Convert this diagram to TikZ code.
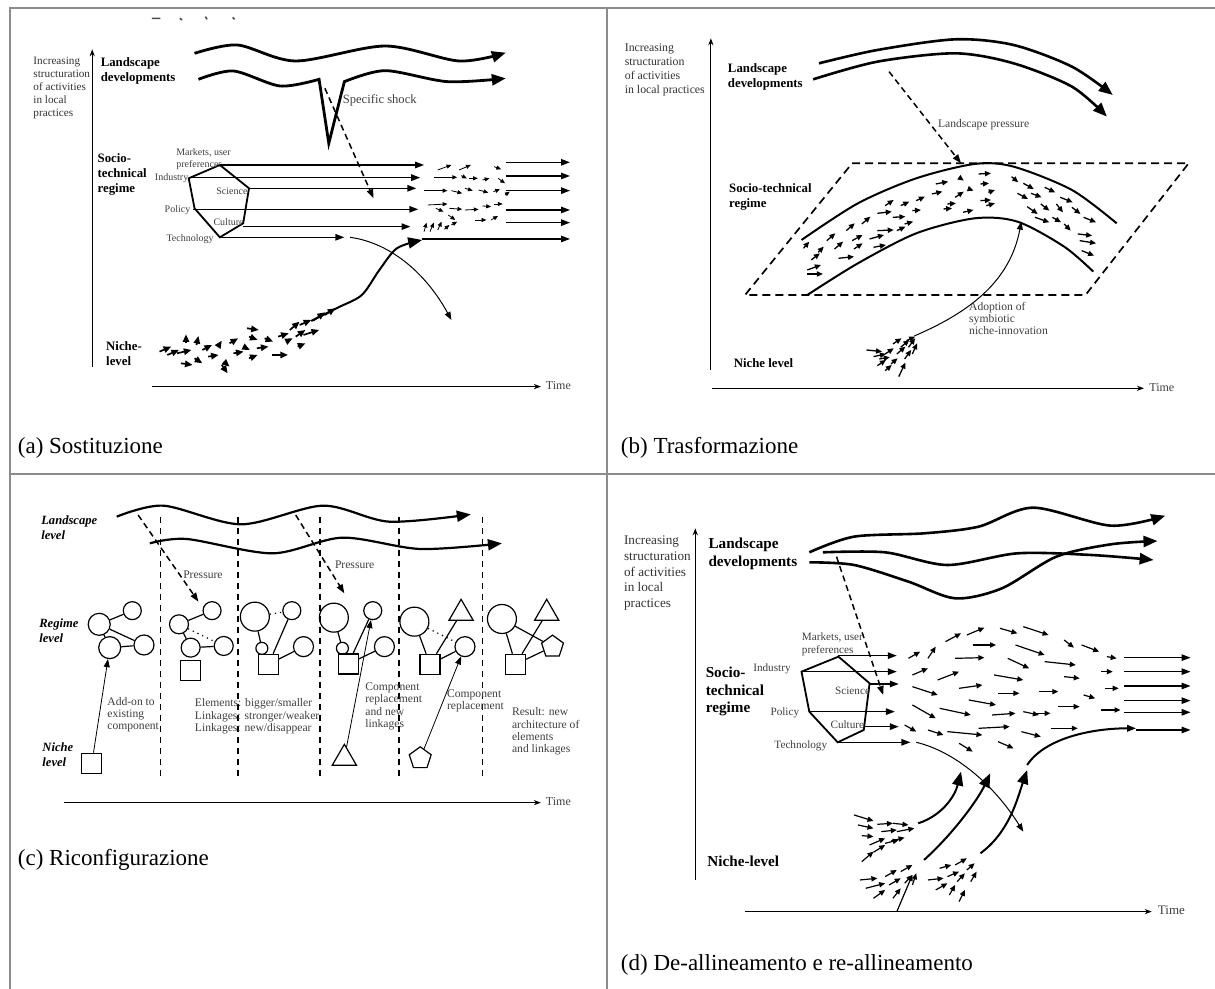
\documentclass[tikz,border=0pt]{standalone}
\usepackage{fontspec}
\setmainfont{Liberation Serif}
\usetikzlibrary{arrows.meta,shapes.geometric}

\tikzset{
  tabline/.style={black!45, line width=0.9pt},
  zoomed/.style={xscale=0.3891, yscale=0.3333},
  axis/.style={line width=0.45pt, -{Stealth[length=3.5pt,width=2.6pt]}},
  land/.style={line width=1.3pt, -{Triangle[length=7pt,width=5.5pt]}},
  flow/.style={line width=0.75pt, -{Triangle[length=4.5pt,width=3.2pt]}},
  thinarr/.style={line width=0.5pt, -{Triangle[length=4pt,width=3pt]}},
  niche/.style={line width=0.85pt, -{Triangle[length=3.8pt,width=3.2pt]}},
  tiny/.style={line width=0.4pt, -{Triangle[length=2.4pt,width=2pt]}},
  mid/.style={line width=0.65pt, -{Triangle[length=3pt,width=2.6pt]}},
  press/.style={line width=0.75pt, dash pattern=on 3pt off 2pt, -{Triangle[length=4.5pt,width=3.2pt]}},
  vsep/.style={line width=0.7pt, dash pattern=on 3pt off 2.5pt},
  ylab/.style={font=\fontsize{5.6}{6.5}\selectfont, align=left, inner sep=0pt, anchor=north west, text=black!80},
  lbl/.style={font=\fontsize{5}{6}\selectfont, align=left, inner sep=0pt, text=black!75},
  levl/.style={font=\bfseries\fontsize{6.4}{7.6}\selectfont, align=left, inner sep=0pt, anchor=west},
  levi/.style={font=\bfseries\itshape\fontsize{6.3}{7.8}\selectfont, align=left, inner sep=0pt, anchor=west},
  capt/.style={font=\fontsize{11.5}{13}\selectfont, inner sep=0pt, anchor=west},
  elem/.style={circle, draw, line width=0.6pt, inner sep=0pt},
  sqel/.style={rectangle, draw, line width=0.6pt, minimum size=10pt, inner sep=0pt},
  triel/.style={regular polygon, regular polygon sides=3, draw, line width=0.6pt, minimum size=14pt, inner sep=0pt},
  pentel/.style={regular polygon, regular polygon sides=5, draw, line width=0.6pt, minimum size=11.5pt, inner sep=0pt},
  link/.style={line width=0.6pt},
  weak/.style={line width=0.6pt, dotted}
}

\begin{document}
\begin{tikzpicture}[x=0.5pt,y=-0.5pt]
\path[use as bounding box, fill=white] (0,0) rectangle (1215,989);
% table frame
\draw[tabline] (10,989) -- (10,8) -- (1215,8);
\draw[tabline] (607,8) -- (607,989);
\draw[tabline] (10,474) -- (1215,474);

% (a) substitution
\begin{scope}[zoomed]
  % cut-off title remains
  \draw[line width=0.8pt, black!70] (390,55) -- (412,55) (462,55) -- (468,60) (528,50) -- (532,58) (598,52) -- (603,58);
  \draw[axis] (237,1100) -- (237,148);
  \node[ylab] (ylabA) at (85,170) {Increasing\\structuration\\of activities\\in local\\practices};
  \node[levl] (landA) at (258,213) {Landscape\\developments};
  \node[levl] (regA) at (250,523) {Socio-\\technical\\regime};
  \node[levl] (nicheA) at (272,1062) {Niche-\\level};
  \draw[land, line width=1.4pt] plot[smooth] coordinates {(500,160) (610,135) (760,183) (990,138) (1180,183) (1300,158)};
  \draw[land, line width=1.4pt] plot[smooth] coordinates {(510,238) (600,213) (720,258) (820,238)} -- (845,430)
    -- plot[smooth] coordinates {(885,245) (990,212) (1150,245) (1300,235)};
  \draw[press] (835,265) -- (960,595);
  \node[lbl, anchor=west, font=\fontsize{6.3}{7}\selectfont] (shockA) at (880,300) {Specific shock};
  \draw[line width=0.9pt] (565,495) -- (640,565) -- (625,670) -- (565,712) -- (500,625) -- (485,535) -- cycle;
  \node[lbl, anchor=west] (mktA) at (452,478) {Markets, user\\preferences};
  \node[lbl, anchor=east] (indA) at (485,533) {Industry};
  \node[lbl, anchor=east] (sciA) at (637,575) {Science};
  \node[lbl, anchor=east] (polA) at (490,630) {Policy};
  \node[lbl, anchor=east] (culA) at (627,665) {Culture};
  \node[lbl, anchor=east] (tecA) at (550,718) {Technology};
  \foreach \ya/\xa/\xb in {495/565/1090, 533/485/1080, 565/640/1070, 628/495/1075, 680/625/1055, 712/565/885}
    \draw[flow] (\xa,\ya) -- (\xb,\ya);
  \foreach \ya in {487,528,572,630,668}
    \draw[flow] (1300,\ya) -- (1465,\ya);
  \draw[flow] (1085,717) -- (1465,717);
  \foreach \xa/\ya/\xb/\yb in {1125/510/1160/495, 1180/510/1210/495, 1270/500/1288/508, 1115/532/1175/532,
      1185/527/1200/535, 1205/535/1228/535, 1240/540/1258/535, 1280/535/1298/550, 1090/572/1150/572,
      1160/572/1188/580, 1195/565/1215/572, 1230/570/1255/578, 1268/575/1285/568, 1298/585/1310/575,
      1100/615/1150/612, 1120/625/1140/635, 1155/625/1188/628, 1195/630/1230/628, 1240/618/1262/620,
      1270/612/1292/612, 1220/660/1250/660, 1262/660/1280/648, 1152/645/1170/660, 1160/675/1175/665,
      1090/695/1096/668, 1105/695/1115/668, 1125/690/1135/665, 1142/688/1155/675}
    \draw[tiny] (\xa,\ya) -- (\xb,\yb);
  \draw[thinarr] (900,712) .. controls (1010,730) and (1100,830) .. (1160,960);
  \draw[land, line width=1pt] plot[smooth] coordinates {(800,963) (870,922) (930,885) (975,810) (1020,745) (1085,720)};
  \foreach \xa/\ya/\xb/\yb in {410/1055/440/1040, 430/1065/460/1050, 478/1030/478/1003, 505/1035/510/1008,
      455/1060/492/1050, 465/1090/495/1095, 500/1075/520/1090, 520/1050/545/1035, 535/1070/562/1065,
      560/1040/570/1022, 575/1085/590/1100, 570/1095/585/1120, 590/1030/612/1015, 600/1060/626/1055,
      625/1040/642/1050, 635/985/665/990, 640/1010/662/1020, 640/1075/662/1065, 660/1045/690/1040,
      680/1015/702/1025, 700/1065/740/1065, 715/1010/742/1000, 735/1025/752/1015, 745/990/770/965,
      760/1010/785/990, 770/975/800/960, 780/1005/820/990, 765/1040/785/1030, 805/962/835/937, 835/945/862/925}
    \draw[niche] (\xa,\ya) -- (\xb,\yb);
  \draw[axis] (390,1160) -- (1390,1160);
  \node[lbl, anchor=west, font=\fontsize{6}{7}\selectfont] (timeA) at (1402,1158) {Time};
  \node[capt] (capA) at (45,1345) {(a) Sostituzione};
\end{scope}

% (b) transformation
\begin{scope}[shift={(605,0)}, zoomed]
  \draw[axis] (272,1110) -- (272,115);
  \node[ylab, font=\fontsize{5.9}{7}\selectfont] (ylabB) at (50,130) {Increasing\\structuration\\of activities\\in local practices};
  \node[levl] (landB) at (315,230) {Landscape\\developments};
  \node[levl] (regB) at (318,591) {Socio-technical\\regime};
  \node[levl] (nicheB) at (330,1090) {Niche level};
  \draw[land] plot[smooth] coordinates {(550,190) (700,150) (900,118) (1050,135) (1200,200) (1305,285)};
  \draw[land] plot[smooth] coordinates {(535,238) (700,185) (900,160) (1050,190) (1200,260) (1290,350)};
  \draw[press] (730,215) -- (915,490);
  \node[lbl, anchor=west, font=\fontsize{5.8}{7}\selectfont] (pressB) at (855,375) {Landscape pressure};
  \draw[line width=0.85pt, dash pattern=on 4pt off 2.5pt] (635,490) -- (1500,490) -- (1235,885) -- (360,885) -- cycle;
  \draw[line width=1pt] plot[smooth] coordinates {(505,720) (650,610) (800,535) (950,492) (1050,500) (1200,570) (1315,670)};
  \draw[line width=1pt] plot[smooth] coordinates {(520,885) (650,790) (800,700) (950,655) (1060,665) (1180,740) (1255,815)};
  \foreach \xa/\ya/\xb/\yb in {510/745/525/725, 520/810/555/795, 520/822/560/822, 530/780/552/760, 548/757/562/740,
      570/722/592/700, 590/747/612/725, 600/775/640/770, 620/692/642/670, 635/722/662/705, 640/747/662/730,
      660/672/682/650, 680/717/717/705, 690/742/722/735, 700/640/737/635, 700/692/742/690, 720/617/742/600,
      740/652/772/650, 750/692/772/680, 760/617/782/605, 770/672/792/665, 790/632/812/630, 800/602/822/590,
      840/582/867/575, 850/552/882/545, 870/627/892/625, 880/612/902/610, 900/592/922/575, 910/532/922/542,
      920/637/947/630, 935/567/947/572, 960/522/992/520, 965/552/987/550, 965/602/992/600, 985/577/1002/570,
      980/617/1002/610, 1045/530/1062/547, 1060/580/1087/597, 1075/550/1102/567, 1085/620/1112/642,
      1095/580/1122/592, 1105/652/1142/667, 1120/612/1142/632, 1130/562/1157/577, 1150/652/1172/667,
      1160/612/1177/637, 1170/592/1202/607, 1180/672/1197/692, 1200/622/1222/642, 1230/652/1262/667,
      1220/722/1262/730, 1225/752/1257/767, 1215/702/1252/707}
    \draw[mid] (\xa,\ya) -- (\xb,\yb);
  \draw[thinarr] (795,1008) .. controls (930,940) and (1040,850) .. (1070,665);
  \node[lbl, anchor=north west, font=\fontsize{5.8}{6.2}\selectfont] (adoptB) at (935,905) {Adoption of\\symbiotic\\niche-innovation};
  \foreach \xa/\ya/\xb/\yb in {672/1050/712/1055, 690/1070/722/1062, 700/1097/722/1080, 720/1062/742/1045,
      735/1092/752/1075, 740/1032/762/1015, 750/1062/772/1040, 755/1130/772/1088, 760/1042/782/1020,
      770/1077/787/1050, 775/1022/797/1010, 780/1042/797/1015, 790/1062/802/1030, 720/1112/737/1095, 705/1077/732/1072}
    \draw[mid] (\xa,\ya) -- (\xb,\yb);
  \draw[axis] (275,1165) -- (1385,1165);
  \node[lbl, anchor=west, font=\fontsize{6}{7}\selectfont] (timeB) at (1398,1163) {Time};
  \node[capt] (capB) at (40,1345) {(b) Trasformazione};
\end{scope}

% (c) reconfiguration
\begin{scope}[shift={(0,465)}, zoomed]
  \node[levi] (landC) at (105,188) {Landscape\\level};
  \node[levi] (regC) at (100,497) {Regime\\level};
  \node[levi] (nicheC) at (108,869) {Niche\\level};
  \draw[land, line width=1.1pt] plot[smooth] coordinates {(300,155) (420,122) (620,178) (830,122) (1000,170) (1210,148)};
  \draw[land, line width=1.1pt] plot[smooth] coordinates {(385,235) (480,222) (700,265) (880,218) (1080,252) (1290,235)};
  \foreach \xv in {412,612,822,1025,1240}
    \draw[vsep] (\xv,155) -- (\xv,945);
  \draw[press] (355,150) -- (510,410);
  \node[lbl, anchor=west, font=\fontsize{5.8}{7}\selectfont] (pr1C) at (470,328) {Pressure};
  \draw[press] (760,150) -- (885,385);
  \node[lbl, anchor=west, font=\fontsize{5.8}{7}\selectfont] (pr2C) at (860,300) {Pressure};
  % step 1
  \node[elem, minimum size=11pt] (c1a) at (255,478) {};
  \node[elem, minimum size=9pt] (c1b) at (340,437) {};
  \node[elem, minimum size=11pt] (c1c) at (282,548) {};
  \node[elem, minimum size=10pt] (c1d) at (370,540) {};
  \draw[link] (c1a) -- (c1b) (c1a) -- (c1c) (c1a) -- (c1d) (c1c) -- (c1d);
  \node[sqel] (s1) at (236,895) {};
  \draw[thinarr, line width=0.4pt] (s1) -- (c1c);
  \node[lbl, anchor=north west, font=\fontsize{5.8}{6.2}\selectfont] (addC) at (275,695) {Add-on to\\existing\\component};
  % step 2
  \node[elem, minimum size=9.5pt] (c2a) at (460,478) {};
  \node[elem, minimum size=9pt] (c2b) at (545,437) {};
  \node[elem, minimum size=9.5pt] (c2c) at (490,548) {};
  \node[elem, minimum size=9.5pt] (c2d) at (575,543) {};
  \node[sqel] (s2) at (490,617) {};
  \draw[link] (c2a) -- (c2b) (c2a) -- (c2c) (c2c) -- (c2d);
  \draw[weak] (c2a) -- (c2d);
  \node[lbl, anchor=north west, font=\fontsize{5.8}{6.2}\selectfont] (chgC) at (500,700) {Elements: bigger/smaller\\Linkages: stronger/weaker\\Linkages: new/disappear};
  % step 3
  \node[elem, minimum size=14.5pt] (c3a) at (655,455) {};
  \node[elem, minimum size=9pt] (c3b) at (750,437) {};
  \node[elem, minimum size=6pt] (c3c) at (673,550) {};
  \node[elem, minimum size=10pt] (c3d) at (780,545) {};
  \node[sqel] (s3) at (690,598) {};
  \draw[weak] (c3a) -- (c3b);
  \draw[link] (c3a) -- (c3c) (s3) -- (c3b) (s3) -- (c3d);
  % step 4
  \node[elem, minimum size=14.5pt] (c4a) at (858,458) {};
  \node[elem, minimum size=9pt] (c4b) at (958,437) {};
  \node[elem, minimum size=6pt] (c4c) at (880,550) {};
  \node[elem, minimum size=10pt] (c4d) at (988,545) {};
  \node[sqel] (s4) at (895,597) {};
  \draw[link] (c4a) -- (c4c) (s4) -- (c4b) (s4) -- (c4d);
  \node[triel] (t1) at (885,880) {};
  \draw[thinarr, line width=0.4pt] (t1) -- (c4b);
  \node[lbl, anchor=north west, font=\fontsize{5.8}{6.2}\selectfont] (repC) at (938,652) {Component\\replacement\\and new\\linkages};
  % step 5
  \node[elem, minimum size=14.5pt] (c5a) at (1065,470) {};
  \node[triel] (t2) at (1185,445) {};
  \node[elem, minimum size=10pt] (c5b) at (1195,545) {};
  \node[sqel] (s5) at (1105,598) {};
  \draw[link] (c5a) -- (s5) (s5) -- (t2) (s5) -- (c5b);
  \draw[weak] (c5a) -- (c5b);
  \node[pentel] (p1) at (1080,880) {};
  \draw[thinarr, line width=0.4pt] (p1) -- (c5b);
  \node[lbl, anchor=north west, font=\fontsize{5.8}{6.2}\selectfont] (rep2C) at (1148,672) {Component\\replacement};
  % step 6
  \node[elem, minimum size=14.5pt] (c6a) at (1290,462) {};
  \node[triel] (t3) at (1405,445) {};
  \node[pentel] (p2) at (1420,545) {};
  \node[sqel] (s6) at (1325,598) {};
  \draw[link] (c6a) -- (s6) (c6a) -- (p2) (s6) -- (t3) (s6) -- (p2);
  \node[lbl, anchor=north west, font=\fontsize{5.8}{6.2}\selectfont] (resC) at (1315,727) {Result: new\\architecture of\\elements\\and linkages};
  \draw[axis] (165,1013) -- (1390,1013);
  \node[lbl, anchor=west, font=\fontsize{6}{7}\selectfont] (timeC) at (1402,1011) {Time};
  \node[capt] (capC) at (45,1185) {(c) Riconfigurazione};
\end{scope}

% (d) de-alignment and re-alignment
\begin{scope}[shift={(605,465)}, zoomed]
  \draw[axis] (232,1245) -- (232,190);
  \node[ylab, font=\fontsize{6.6}{7.8}\selectfont] (ylabD) at (48,212) {Increasing\\structuration\\of activities\\in local\\practices};
  \node[levl, font=\bfseries\fontsize{7.6}{8.8}\selectfont] (landD) at (265,266) {Landscape\\developments};
  \node[levl, font=\bfseries\fontsize{7.6}{8.8}\selectfont] (regD) at (258,680) {Socio-\\technical\\regime};
  \node[levl, font=\bfseries\fontsize{7.6}{8.8}\selectfont] (nicheD) at (262,1188) {Niche-level};
  \draw[land] plot[smooth] coordinates {(525,262) (640,215) (820,205) (960,185) (1100,128) (1300,182) (1440,152)};
  \draw[land] plot[smooth] coordinates {(525,292) (640,300) (780,350) (900,400) (1020,370) (1160,275) (1300,238) (1420,228)};
  \draw[land] plot[smooth] coordinates {(560,262) (720,262) (880,300) (1060,265) (1250,270) (1410,285)};
  \draw[press] (595,275) -- (715,690);
  \draw[line width=0.9pt] (600,575) -- (680,655) -- (665,795) -- (598,832) -- (525,740) -- (505,620) -- cycle;
  \node[lbl, anchor=west, font=\fontsize{5.6}{6.6}\selectfont] (mktD) at (505,537) {Markets, user\\preferences};
  \node[lbl, anchor=east, font=\fontsize{5.6}{6.6}\selectfont] (indD) at (478,612) {Industry};
  \node[lbl, anchor=east, font=\fontsize{5.6}{6.6}\selectfont] (sciD) at (682,678) {Science};
  \node[lbl, anchor=east, font=\fontsize{5.6}{6.6}\selectfont] (polD) at (500,745) {Policy};
  \node[lbl, anchor=east, font=\fontsize{5.6}{6.6}\selectfont] (culD) at (667,780) {Culture};
  \node[lbl, anchor=east, font=\fontsize{5.6}{6.6}\selectfont] (tecD) at (572,842) {Technology};
  \foreach \ya/\xa/\xb in {572/600/750, 620/505/750, 657/680/755, 740/525/745, 785/665/755, 832/598/785}
    \draw[flow] (\xa,\ya) -- (\xb,\ya);
  \foreach \ya in {578,620,663,707,742}
    \draw[flow] (1335,\ya) -- (1505,\ya);
  \draw[flow] (1365,795) -- (1505,795);
  \draw[flow, line width=1pt] (1085,900) .. controls (1130,820) and (1250,790) .. (1365,790);
  \foreach \xa/\ya/\xb/\yb in {780/580/810/560, 790/630/830/610, 790/665/855/690, 790/720/850/760, 770/780/800/800,
      830/580/850/545, 855/645/910/620, 830/795/870/810, 875/530/915/505, 860/730/940/750, 880/800/970/810,
      910/670/970/660, 930/510/975/488, 945/540/1005/540, 900/580/975/578, 935/705/1005/720, 910/835/945/860,
      960/790/1040/785, 995/750/1055/745, 1000/630/1075/645, 1010/685/1065/685, 1015/490/1060/505,
      1035/580/1090/610, 1010/830/1050/850, 1055/540/1130/570, 1075/485/1140/510, 1075/740/1115/750,
      1070/800/1120/815, 1115/680/1165/680, 1105/745/1145/745, 1130/590/1210/600, 1165/725/1220/725,
      1145/790/1215/790, 1180/635/1220/640, 1180/525/1205/548, 1225/540/1270/560, 1230/690/1260/700,
      1275/735/1325/735, 1275/620/1305/620, 1285/670/1320/670, 1290/575/1315/580}
    \draw[mid, line width=0.6pt] (\xa,\ya) -- (\xb,\yb);
  \draw[thinarr] (800,832) .. controls (900,860) and (1000,960) .. (1075,1100);
  \draw[land, line width=1pt] (805,1075) .. controls (870,1050) and (900,990) .. (915,920);
  \draw[land, line width=1pt] (820,1185) .. controls (900,1100) and (960,1000) .. (990,925);
  \draw[land, line width=1pt] (965,1165) .. controls (1040,1100) and (1060,1000) .. (1085,915);
  \foreach \xa/\ya/\xb/\yb in {640/1050/690/1068, 650/1080/690/1090, 660/1112/690/1115, 700/1078/740/1075,
      710/1100/750/1095, 740/1075/780/1080, 750/1100/795/1090, 680/1140/720/1120, 690/1162/720/1140,
      660/1190/690/1160, 720/1135/755/1125, 735/1128/770/1118,
      655/1245/700/1240, 670/1270/720/1255, 690/1300/720/1275, 720/1235/750/1215, 730/1260/760/1240,
      740/1300/760/1270, 760/1220/790/1200, 770/1255/790/1230, 790/1260/800/1225, 750/1340/790/1230,
      830/1245/870/1240, 850/1275/880/1255, 860/1210/890/1200, 880/1235/910/1220, 885/1290/900/1260,
      900/1200/930/1180, 905/1250/925/1225, 910/1310/925/1275, 930/1215/950/1195, 940/1250/955/1220}
    \draw[mid, line width=0.6pt] (\xa,\ya) -- (\xb,\yb);
  \draw[axis] (360,1340) -- (1405,1340);
  \node[lbl, anchor=west, font=\fontsize{6.5}{7}\selectfont] (timeD) at (1420,1335) {Time};
  \node[capt] (capD) at (40,1500) {(d) De-allineamento e re-allineamento};
\end{scope}
\end{tikzpicture}
\end{document}
